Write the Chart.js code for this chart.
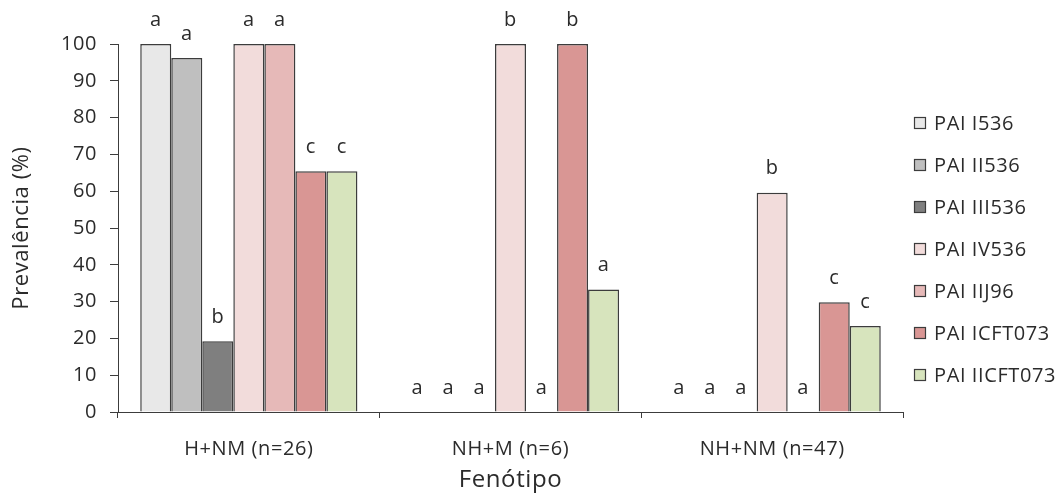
<!DOCTYPE html>
<html>
<head>
<meta charset="utf-8">
<script src="https://cdn.jsdelivr.net/npm/chart.js@4"></script>
<style>
  html, body { margin: 0; padding: 0; background: #fff; }
  #wrap { width: 1062px; height: 496px; }
</style>
</head>
<body>
<div id="wrap"><canvas id="prevChart"></canvas></div>
<script>
// fenótipos
const grupos = ["H+NM (n=26)", "NH+M (n=6)", "NH+NM (n=47)"];

// prevalência (%) de cada PAI por fenótipo
const paiI536     = [100, 0, 0];
const paiII536    = [96.2, 0, 0];
const paiIII536   = [19.2, 0, 0];
const paiIV536    = [100, 100, 59.6];
const paiIIJ96    = [100, 0, 0];
const paiICFT073  = [65.4, 100, 29.8];
const paiIICFT073 = [65.4, 33.3, 23.4];

// letras de significância sobre cada barra
const letrasI536     = ["a", "a", "a"];
const letrasII536    = ["a", "a", "a"];
const letrasIII536   = ["b", "a", "a"];
const letrasIV536    = ["a", "b", "b"];
const letrasIIJ96    = ["a", "a", "a"];
const letrasICFT073  = ["c", "b", "c"];
const letrasIICFT073 = ["c", "a", "c"];

const yTicks = [0, 10, 20, 30, 40, 50, 60, 70, 80, 90, 100];

const FONTE = "'Open Sans', 'Noto Sans', sans-serif";
const TEXTO = "#2b2b2b";
const BORDA = "#3c3c3c";
const ESPACO = "0.6px";

const series = [
  { label: "PAI I536",     data: paiI536,     letras: letrasI536,     cor: "#E8E8E8" },
  { label: "PAI II536",    data: paiII536,    letras: letrasII536,    cor: "#BFBFBF" },
  { label: "PAI III536",   data: paiIII536,   letras: letrasIII536,   cor: "#7F7F7F" },
  { label: "PAI IV536",    data: paiIV536,    letras: letrasIV536,    cor: "#F2DCDB" },
  { label: "PAI IIJ96",    data: paiIIJ96,    letras: letrasIIJ96,    cor: "#E6B9B8" },
  { label: "PAI ICFT073",  data: paiICFT073,  letras: letrasICFT073,  cor: "#D99694" },
  { label: "PAI IICFT073", data: paiIICFT073, letras: letrasIICFT073, cor: "#D7E4BD" }
];

// espaçamento entre letras para todo o texto do canvas
const espacoPlugin = {
  id: "espaco",
  beforeLayout(chart) { chart.ctx.letterSpacing = ESPACO; },
  beforeDraw(chart) { chart.ctx.letterSpacing = ESPACO; }
};

// escreve a letra acima de cada barra
const letrasPlugin = {
  id: "letras",
  afterDatasetsDraw(chart) {
    const ctx = chart.ctx;
    ctx.save();
    ctx.font = "20px " + FONTE;
    ctx.fillStyle = TEXTO;
    ctx.textAlign = "center";
    ctx.textBaseline = "middle";
    chart.data.datasets.forEach((ds, i) => {
      const meta = chart.getDatasetMeta(i);
      meta.data.forEach((bar, j) => {
        ctx.fillText(ds.letras[j], bar.x, bar.y - 24);
      });
    });
    ctx.restore();
  }
};

// legenda vertical à direita
const legendaPlugin = {
  id: "legenda",
  afterDraw(chart) {
    const ctx = chart.ctx;
    ctx.save();
    ctx.font = "20px " + FONTE;
    ctx.textBaseline = "middle";
    ctx.textAlign = "left";
    chart.data.datasets.forEach((ds, i) => {
      const y = 123 + i * 42;
      ctx.fillStyle = ds.backgroundColor;
      ctx.fillRect(914.5, y - 5.5, 11, 11);
      ctx.strokeStyle = BORDA;
      ctx.lineWidth = 1.2;
      ctx.strokeRect(914.5, y - 5.5, 11, 11);
      ctx.fillStyle = TEXTO;
      ctx.fillText(ds.label, 934, y + 1);
    });
    ctx.restore();
  }
};

const ctx = document.getElementById("prevChart").getContext("2d");

new Chart(ctx, {
  type: "bar",
  data: {
    labels: grupos,
    datasets: series.map(s => ({
      label: s.label,
      data: s.data,
      letras: s.letras,
      backgroundColor: s.cor,
      borderColor: BORDA,
      borderWidth: 1.5,
      borderSkipped: "start",
      categoryPercentage: 0.83,
      barPercentage: 1.0
    }))
  },
  options: {
    responsive: true,
    maintainAspectRatio: false,
    animation: false,
    layout: {
      padding: { top: 44, right: 159, bottom: 0, left: 0 }
    },
    plugins: {
      legend: { display: false },
      tooltip: { enabled: false }
    },
    scales: {
      x: {
        offset: true,
        grid: {
          offset: true,
          drawOnChartArea: false,
          drawTicks: true,
          tickLength: 6,
          color: BORDA
        },
        border: { display: true, color: BORDA, width: 1 },
        ticks: {
          color: TEXTO,
          padding: 19,
          font: { family: FONTE, size: 20 }
        },
        title: {
          display: true,
          text: "Fenótipo",
          color: TEXTO,
          padding: { top: 0, bottom: 1 },
          font: { family: FONTE, size: 24 }
        },
        afterFit(scale) { scale.height = 84; }
      },
      y: {
        min: 0,
        max: 100,
        afterBuildTicks(scale) {
          scale.ticks = yTicks.map(v => ({ value: v }));
        },
        grid: {
          drawOnChartArea: false,
          drawTicks: true,
          tickLength: 8,
          color: BORDA
        },
        border: { display: true, color: BORDA, width: 1 },
        ticks: {
          color: TEXTO,
          padding: 13,
          font: { family: FONTE, size: 20 }
        },
        title: {
          display: true,
          text: "Prevalência (%)",
          color: TEXTO,
          padding: { top: 9, bottom: 0 },
          font: { family: FONTE, size: 22 }
        },
        afterFit(scale) { scale.width = 118; }
      }
    }
  },
  plugins: [espacoPlugin, letrasPlugin, legendaPlugin]
});
</script>
</body>
</html>
